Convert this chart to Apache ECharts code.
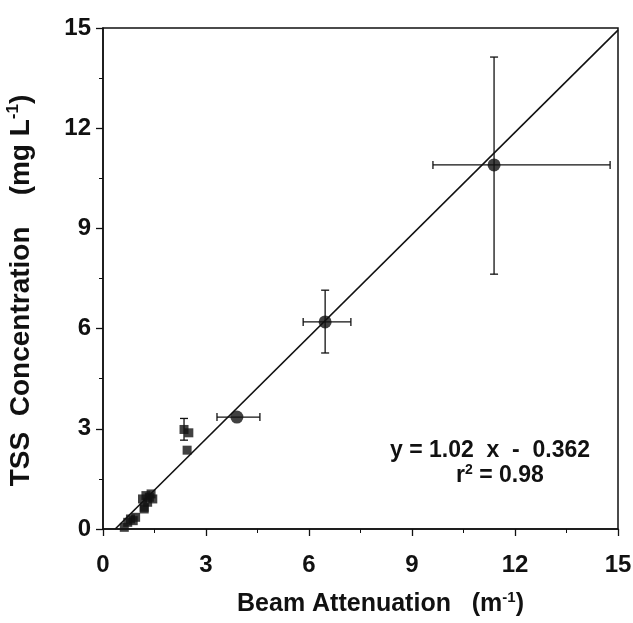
<!DOCTYPE html>
<html>
<head>
<meta charset="utf-8">
<script src="https://cdn.jsdelivr.net/npm/echarts@6/dist/echarts.min.js"></script>
<style>html,body{margin:0;padding:0;background:#fff;}#c{width:633px;height:623px;}</style>
</head>
<body>
<div id="c"></div>
<script>
// Axis ticks
var xTicks = [0, 3, 6, 9, 12, 15];
var yTicks = [0, 3, 6, 9, 12, 15];

// Large circles (with x and y error bars)
var circleX = [3.9, 6.47, 11.39];
var circleY = [3.35, 6.2, 10.9];
var circleXLow = [3.32, 5.83, 9.61];
var circleXHigh = [4.57, 7.22, 14.77];
var circleYLow = [3.35, 5.27, 7.63];
var circleYHigh = [3.35, 7.15, 14.13];

// Small squares
var squareX = [0.62, 0.72, 0.8, 0.88, 0.95, 1.15, 1.2, 1.25, 1.3, 1.35, 1.4, 1.45, 1.2, 2.36, 2.5, 2.45];
var squareY = [0.05, 0.2, 0.3, 0.25, 0.35, 0.9, 0.65, 1.0, 0.8, 0.95, 1.05, 0.9, 0.6, 2.98, 2.88, 2.36];
// Square error bar (vertical)
var sqErrX = [2.36];
var sqErrLow = [2.66];
var sqErrHigh = [3.31];

// Regression line
var slope = 1.02, intercept = -0.362;
var fitX = [0.355, 15];

var FONT = '"Liberation Sans", Arial, sans-serif';

var circleErr = circleX.map(function (x, i) {
  return [x, circleY[i], circleXLow[i], circleXHigh[i], circleYLow[i], circleYHigh[i]];
});
var sqErr = sqErrX.map(function (x, i) {
  return [x, x, x, x, sqErrLow[i], sqErrHigh[i]];
});

function errRender(params, api) {
  var x = api.value(0), y = api.value(1);
  var xl = api.value(2), xh = api.value(3), yl = api.value(4), yh = api.value(5);
  var cap = 4;
  var children = [];
  var st = { stroke: '#111', lineWidth: 1.3 };
  if (xh > xl) {
    var a = api.coord([xl, y]), b = api.coord([xh, y]);
    children.push({ type: 'line', shape: { x1: a[0], y1: a[1], x2: b[0], y2: b[1] }, style: st });
    children.push({ type: 'line', shape: { x1: a[0], y1: a[1] - cap, x2: a[0], y2: a[1] + cap }, style: st });
    children.push({ type: 'line', shape: { x1: b[0], y1: b[1] - cap, x2: b[0], y2: b[1] + cap }, style: st });
  }
  if (yh > yl) {
    var c = api.coord([x, yl]), d = api.coord([x, yh]);
    children.push({ type: 'line', shape: { x1: c[0], y1: c[1], x2: d[0], y2: d[1] }, style: st });
    children.push({ type: 'line', shape: { x1: c[0] - cap, y1: c[1], x2: c[0] + cap, y2: c[1] }, style: st });
    children.push({ type: 'line', shape: { x1: d[0] - cap, y1: d[1], x2: d[0] + cap, y2: d[1] }, style: st });
  }
  return { type: 'group', children: children };
}

var chart = echarts.init(document.getElementById('c'));
chart.setOption({
  backgroundColor: '#fff',
  animation: false,
  grid: { left: 103, right: 15, top: 28, bottom: 94, show: true, borderColor: '#111', borderWidth: 1.5, backgroundColor: 'transparent', outerBoundsMode: 'none', containLabel: false },
  xAxis: {
    type: 'value', min: xTicks[0], max: xTicks[xTicks.length - 1], interval: 3,
    name: '{t|Beam Attenuation   (m}{s|-1}{t|)}', nameLocation: 'middle', nameGap: 61,
    nameTextStyle: { padding: [0, 0, 0, 40], rich: {
      t: { fontFamily: FONT, fontSize: 25, fontWeight: 'bold', color: '#111' },
      s: { fontFamily: FONT, fontSize: 15, fontWeight: 'bold', color: '#111', padding: [0, 0, 13, 0] }
    } },
    axisLine: { lineStyle: { color: '#111', width: 1.5 } },
    axisTick: { inside: false, length: 7, lineStyle: { color: '#111', width: 1.3 } },
    minorTick: { show: true, splitNumber: 2, length: 4, lineStyle: { color: '#111' } },
    splitLine: { show: false },
    axisLabel: { fontFamily: FONT, fontSize: 24, fontWeight: 'bold', color: '#111', margin: 24 }
  },
  yAxis: {
    type: 'value', min: yTicks[0], max: yTicks[yTicks.length - 1], interval: 3,
    name: '{t|TSS  Concentration    (mg L}{s|-1}{t|)}', nameLocation: 'middle', nameGap: 66, nameRotate: 90,
    nameTextStyle: { padding: [0, 24, 0, 0], rich: {
      t: { fontFamily: FONT, fontSize: 28, fontWeight: 'bold', color: '#111' },
      s: { fontFamily: FONT, fontSize: 17, fontWeight: 'bold', color: '#111', padding: [0, 0, 15, 0] }
    } },
    axisLine: { lineStyle: { color: '#111', width: 1.5 } },
    axisTick: { inside: false, length: 7, lineStyle: { color: '#111', width: 1.3 } },
    minorTick: { show: true, splitNumber: 2, length: 4, lineStyle: { color: '#111' } },
    splitLine: { show: false },
    axisLabel: { fontFamily: FONT, fontSize: 24, fontWeight: 'bold', color: '#111', margin: 12 }
  },
  series: [
    {
      type: 'line', data: fitX.map(function (x) { return [x, slope * x + intercept]; }),
      symbol: 'none', lineStyle: { color: '#111', width: 1.6 }, z: 2
    },
    { type: 'custom', renderItem: errRender, data: circleErr, z: 3, encode: { x: 0, y: 1 } },
    { type: 'custom', renderItem: errRender, data: sqErr, z: 3, encode: { x: 0, y: 4 } },
    {
      type: 'scatter', data: circleX.map(function (x, i) { return [x, circleY[i]]; }),
      symbol: 'circle', symbolSize: 13, itemStyle: { color: '#111' }, z: 4
    },
    {
      type: 'scatter', data: squareX.map(function (x, i) { return [x, squareY[i]]; }),
      symbol: 'rect', symbolSize: 9, itemStyle: { color: '#111' }, z: 4
    }
  ],
  graphic: [
    { type: 'text', left: 390, top: 439, style: { text: 'y = 1.02  x  -  0.362', fontFamily: FONT, fontSize: 23, fontWeight: 'bold', fill: '#111' } },
    { type: 'text', left: 456, top: 463, style: { text: '{t|r}{s|2}{t| = 0.98}', fontFamily: FONT, fontSize: 23, fontWeight: 'bold', fill: '#111',
      rich: { t: { fontFamily: FONT, fontSize: 23, fontWeight: 'bold', fill: '#111' }, s: { fontFamily: FONT, fontSize: 14, fontWeight: 'bold', fill: '#111', padding: [0, 0, 11, 0] } } } }
  ]
});
</script>
</body>
</html>
